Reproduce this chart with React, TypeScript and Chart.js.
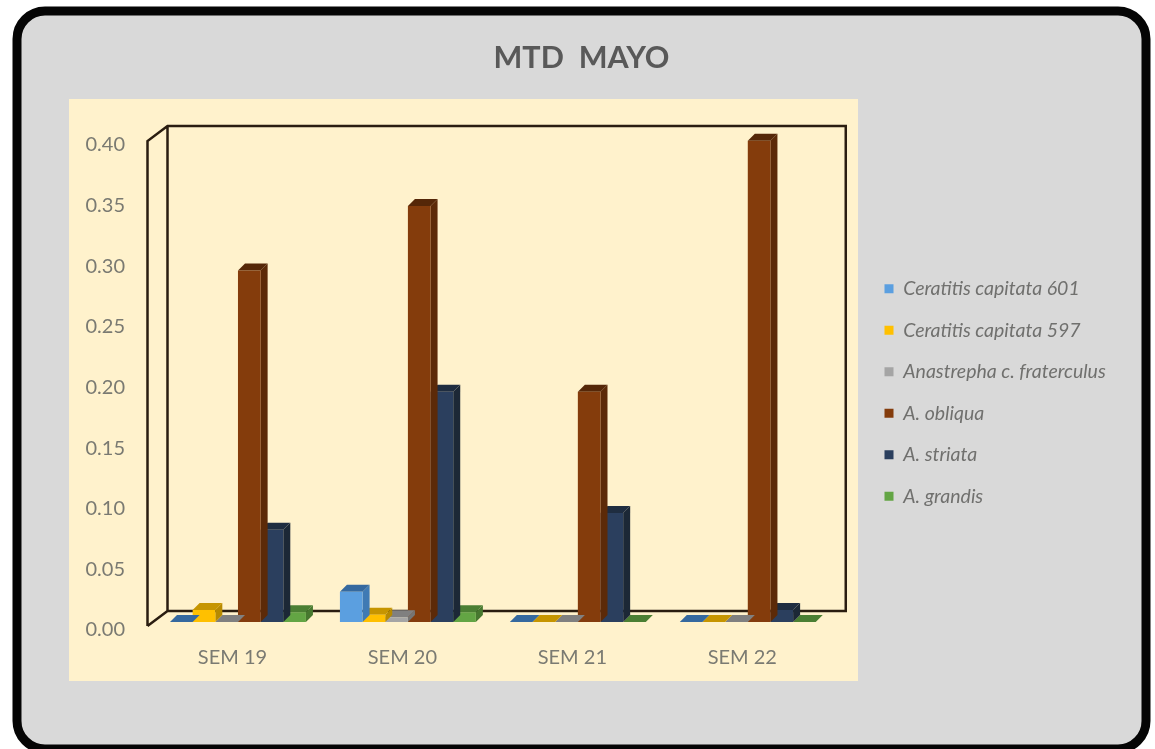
import React, { useEffect, useRef } from "react";
import { Chart, registerables } from "chart.js";

Chart.register(...registerables);

const categories = ["SEM 19", "SEM 20", "SEM 21", "SEM 22"];
const capitata601 = [0, 0.025, 0, 0];
const capitata597 = [0.01, 0.006, 0, 0];
const fraterculus = [0, 0.004, 0, 0];
const obliqua = [0.29, 0.343, 0.19, 0.397];
const striata = [0.076, 0.19, 0.09, 0.01];
const grandis = [0.008, 0.008, 0, 0];
const yTicks = ["0.00", "0.05", "0.10", "0.15", "0.20", "0.25", "0.30", "0.35", "0.40"];

const seriesNames = [
  "Ceratitis capitata 601",
  "Ceratitis capitata 597",
  "Anastrepha c. fraterculus",
  "A. obliqua",
  "A. striata",
  "A. grandis",
];
const seriesValues = [capitata601, capitata597, fraterculus, obliqua, striata, grandis];
const frontColors = ["#5B9FE0", "#FFC000", "#A5A5A5", "#843C0C", "#2B3F5E", "#63A544"];
const topColors = ["#35699F", "#C69500", "#808080", "#552708", "#1F2D40", "#4B7F33"];
const sideColors = ["#3F7AB4", "#B78A00", "#757575", "#5C2A08", "#1C2836", "#47782F"];

const FONT = "Lato, 'Noto Sans', sans-serif";
const BAR_DX = 7;
const BAR_DY = 7;
const PAD_RIGHT = 69;

const panelPlugin = {
  id: "panel",
  beforeDraw(chart: any) {
    const { ctx } = chart;
    ctx.save();
    ctx.fillStyle = "#FFFFFF";
    ctx.fillRect(0, 0, chart.width, chart.height);
    ctx.beginPath();
    ctx.roundRect(17, 11, 1129, 738, 28);
    ctx.fillStyle = "#D9D9D9";
    ctx.fill();
    ctx.lineWidth = 9;
    ctx.strokeStyle = "#050505";
    ctx.stroke();
    ctx.fillStyle = "#FFF2CC";
    ctx.fillRect(69, 99, 789, 582);
    ctx.restore();
  },
};

const placementPlugin = {
  id: "placement",
  afterLayout(chart: any) {
    const l = chart.legend;
    l.left = 862.5;
    l.right = l.left + l.width;
    l.top += 18;
    l.bottom += 18;
    chart.titleBlock.left += PAD_RIGHT;
  },
};

const wallsPlugin = {
  id: "walls",
  beforeDatasetsDraw(chart: any) {
    const { ctx, chartArea: a } = chart;
    const fl = a.left - 5.5;
    const ft = a.top + 4;
    const fb = a.bottom + 4;
    const dx = 20;
    const dy = 15;
    const br = a.right + 13;
    ctx.save();
    ctx.strokeStyle = "#2A1D10";
    ctx.lineWidth = 2.5;
    ctx.beginPath();
    ctx.moveTo(fl, fb);
    ctx.lineTo(fl, ft);
    ctx.lineTo(fl + dx, ft - dy);
    ctx.lineTo(br, ft - dy);
    ctx.lineTo(br, fb - dy);
    ctx.lineTo(fl + dx, fb - dy);
    ctx.lineTo(fl, fb);
    ctx.moveTo(fl + dx, ft - dy);
    ctx.lineTo(fl + dx, fb - dy);
    ctx.stroke();
    ctx.restore();
  },
};

const bar3dPlugin = {
  id: "bar3d",
  beforeDatasetDraw(chart: any, args: any) {
    const { ctx } = chart;
    const i = args.index;
    const meta = chart.getDatasetMeta(i);
    ctx.save();
    meta.data.forEach((bar: any) => {
      const { x, y, base, width } = bar.getProps(["x", "y", "base", "width"], true);
      const l = x - width / 2;
      const r = x + width / 2;
      ctx.fillStyle = sideColors[i];
      ctx.beginPath();
      ctx.moveTo(r, y);
      ctx.lineTo(r + BAR_DX, y - BAR_DY);
      ctx.lineTo(r + BAR_DX, base - BAR_DY);
      ctx.lineTo(r, base);
      ctx.closePath();
      ctx.fill();
      ctx.fillStyle = topColors[i];
      ctx.beginPath();
      ctx.moveTo(l, y);
      ctx.lineTo(l + BAR_DX, y - BAR_DY);
      ctx.lineTo(r + BAR_DX, y - BAR_DY);
      ctx.lineTo(r, y);
      ctx.closePath();
      ctx.fill();
    });
    ctx.restore();
  },
};

export default function App() {
  const ref = useRef<HTMLCanvasElement>(null);
  useEffect(() => {
    document.body.style.margin = "0";
    const chart = new Chart(ref.current as HTMLCanvasElement, {
      type: "bar",
      data: {
        labels: categories,
        datasets: seriesNames.map((name, i) => ({
          label: name,
          data: seriesValues[i],
          backgroundColor: frontColors[i],
          borderWidth: 0,
          categoryPercentage: 0.8,
          barPercentage: 1,
        })),
      },
      options: {
        animation: false,
        responsive: false,
        layout: { padding: { left: 8, right: PAD_RIGHT, top: 0, bottom: 0 } },
        scales: {
          x: {
            grid: { display: false, drawTicks: false },
            border: { display: false },
            ticks: {
              color: "#7A7A72",
              font: { family: FONT, size: 20 },
              labelOffset: -5.5,
              padding: 24,
            },
            afterFit(s: any) {
              s.height = 127;
            },
          },
          y: {
            min: 0,
            max: 0.4,
            grid: { display: false, drawTicks: false },
            border: { display: false },
            ticks: {
              stepSize: 0.05,
              color: "#7A7A72",
              font: { family: FONT, size: 20 },
              labelOffset: 8,
              padding: 28,
              callback: (_v: any, i: number) => yTicks[i],
            },
            afterFit(s: any) {
              s.width = 145;
            },
          },
        } as any,
        plugins: {
          title: {
            display: true,
            text: "MTD  MAYO",
            color: "#595959",
            font: { family: FONT, size: 30.5, weight: "bold" },
            padding: { top: 40, bottom: 60.4 },
          },
          legend: {
            position: "right",
            maxWidth: 260,
            labels: {
              boxWidth: 9,
              boxHeight: 9,
              padding: 22,
              color: "#70706E",
              font: { family: FONT, size: 19.5, style: "italic" },
            },
          },
          tooltip: { enabled: false },
        },
      } as any,
      plugins: [panelPlugin, placementPlugin, wallsPlugin, bar3dPlugin],
    });
    return () => chart.destroy();
  }, []);
  return (
    <div style={{ width: 1155, height: 749 }}>
      <canvas ref={ref} width={1155} height={749} style={{ display: "block", filter: "blur(0.7px)" }} />
    </div>
  );
}
